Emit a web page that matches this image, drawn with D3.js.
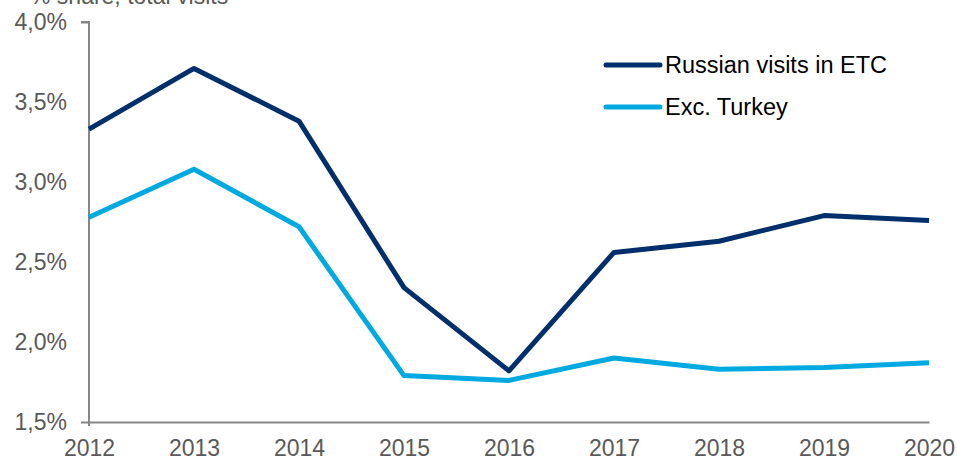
<!DOCTYPE html>
<html>
<head>
<meta charset="utf-8">
<script src="https://cdn.jsdelivr.net/npm/d3@7"></script>
<style>
  body { margin: 0; background: #fff; }
  text { font-family: "Liberation Sans", Arial, sans-serif; }
</style>
</head>
<body>
<div id="chart"></div>
<script>
var years   = [2012, 2013, 2014, 2015, 2016, 2017, 2018, 2019, 2020]
var russian = [3.33, 3.71, 3.38, 2.34, 1.82, 2.56, 2.63, 2.79, 2.76]
var excTurkey = [2.78, 3.08, 2.72, 1.79, 1.76, 1.90, 1.83, 1.84, 1.87]
var yTicks  = [1.5, 2.0, 2.5, 3.0, 3.5, 4.0]
var seriesNames = ["Russian visits in ETC", "Exc. Turkey"]
var colors  = ["#002F6C", "#00A9E0"]

var width = 957, height = 462
var margin = { top: 22, right: 28, bottom: 40, left: 89 }

var svg = d3.select("#chart").append("svg")
  .attr("width", width)
  .attr("height", height)

var x = d3.scaleLinear()
  .domain([2012, 2020])
  .range([margin.left, width - margin.right])

var y = d3.scaleLinear()
  .domain([1.5, 4.0])
  .range([height - margin.bottom, margin.top])

var fmt = d => d.toFixed(1).replace(".", ",") + "%"

// y axis
var yAxis = svg.append("g")
  .attr("transform", `translate(${margin.left},0)`)
  .call(d3.axisLeft(y).tickValues(yTicks).tickFormat(fmt).tickSize(8).tickPadding(14))
yAxis.select(".domain").attr("stroke", "#868686").attr("stroke-width", 2)
  .attr("d", `M-8,${y(4.0)}H0V${y(1.5) + 4}`)
yAxis.selectAll(".tick line").attr("stroke", "#868686").attr("stroke-width", 2)
yAxis.selectAll(".tick").filter(d => d != 4.0 && d != 1.5).select("line").remove()
yAxis.selectAll("text").attr("fill", "#595959").style("font-size", "23px")

// x axis
var xAxis = svg.append("g")
  .attr("transform", `translate(0,${y(1.5)})`)
  .call(d3.axisBottom(x).tickValues(years).tickFormat(d3.format("d")).tickSize(0).tickPadding(18))
xAxis.select(".domain").attr("stroke", "#868686").attr("stroke-width", 2)
xAxis.selectAll("text").attr("fill", "#595959").style("font-size", "23px")

// title (cut off at top, as in the source)
svg.append("text")
  .attr("x", 30)
  .attr("y", 4)
  .attr("fill", "#595959")
  .style("font-size", "23px")
  .text("% share, total visits")

var line = d3.line()
  .x((d, i) => x(years[i]))
  .y(d => y(d))

var series = [russian, excTurkey]

svg.selectAll(".series")
  .data(series)
  .enter().append("path")
  .attr("class", "series")
  .attr("fill", "none")
  .attr("stroke", (d, i) => colors[i])
  .attr("stroke-width", 5)
  .attr("stroke-linejoin", "round")
  .attr("d", line)

// legend
var legend = svg.selectAll(".legend")
  .data(seriesNames)
  .enter().append("g")
  .attr("class", "legend")
  .attr("transform", (d, i) => `translate(606,${65 + i * 42})`)

legend.append("line")
  .attr("x1", 0).attr("x2", 54)
  .attr("stroke", (d, i) => colors[i])
  .attr("stroke-width", 5)
  .attr("stroke-linecap", "round")

legend.append("text")
  .attr("x", 59)
  .attr("dy", "0.35em")
  .attr("fill", "#000")
  .style("font-size", "23.5px")
  .text(d => d)
</script>
</body>
</html>
